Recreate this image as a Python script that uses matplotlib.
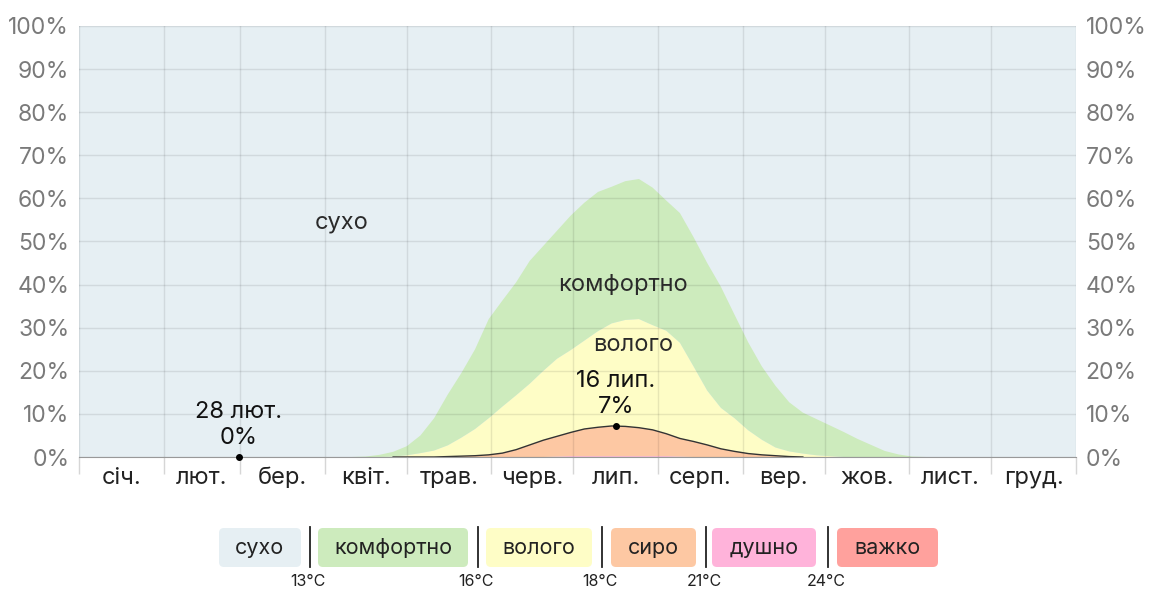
import matplotlib
matplotlib.use("Agg")
import matplotlib.pyplot as plt
from matplotlib.patches import FancyBboxPatch
import numpy as np

plt.rcParams['font.family'] = ['Inter', 'DejaVu Sans']

# day of year (0 = 1 Jan) and share of hours in each humidity band, %
days = [0, 100, 105, 110, 115, 120, 125, 130, 135, 140, 145, 150, 155, 160, 165, 170,
        175, 180, 185, 190, 195, 200, 205, 210, 215, 220, 225, 230, 235, 240, 245,
        250, 255, 260, 265, 270, 275, 280, 285, 290, 295, 300, 305, 310, 365]
comfortable = [0, 0, 0.1, 0.5, 1.1, 2.1, 4.1, 7.5, 11.8, 15.0, 18.5, 23.0, 24.6, 26.2, 28.5, 29.0,
               29.7, 31.2, 32.0, 32.3, 31.7, 32.2, 32.5, 31.9, 30.2, 30.1, 30.0, 29.6, 28.1, 24.0, 20.4,
               17.0, 14.3, 11.4, 9.5, 8.4, 7.1, 5.8, 4.2, 2.8, 1.4, 0.6, 0.1, 0, 0]
humid = [0, 0, 0, 0, 0.1, 0.4, 0.9, 1.5, 2.6, 4.3, 6.2, 8.5, 10.8, 12.6, 14.2, 16.1,
         18.0, 19.1, 20.5, 22.3, 23.8, 24.7, 25.2, 24.3, 23.9, 22.2, 17.4, 12.6, 9.5, 7.7, 5.4,
         3.5, 1.9, 1.2, 0.8, 0.4, 0.2, 0, 0, 0, 0, 0, 0, 0, 0]
muggy = [0, 0, 0, 0, 0, 0, 0, 0, 0.1, 0.2, 0.3, 0.5, 0.9, 1.7, 2.8, 3.9,
         4.7, 5.5, 6.3, 6.7, 7.0, 6.9, 6.6, 6.1, 5.2, 4.2, 3.6, 2.8, 1.9, 1.3, 0.8,
         0.5, 0.3, 0.1, 0, 0, 0, 0, 0, 0, 0, 0, 0, 0, 0]
oppressive = [0, 0, 0, 0, 0, 0, 0, 0, 0, 0, 0, 0, 0, 0, 0, 0,
              0.1, 0.2, 0.2, 0.2, 0.2, 0.2, 0.2, 0.2, 0.2, 0.1, 0, 0, 0, 0, 0,
              0, 0, 0, 0, 0, 0, 0, 0, 0, 0, 0, 0, 0, 0]

month_starts = [0, 31, 59, 90, 120, 151, 181, 212, 243, 273, 304, 334, 365]
month_labels = ['січ.', 'лют.', 'бер.', 'квіт.', 'трав.', 'черв.', 'лип.', 'серп.',
                'вер.', 'жов.', 'лист.', 'груд.']

band_names = ['сухо', 'комфортно', 'волого', 'сиро', 'душно', 'важко']
band_colors = ['#e6eff3', '#cdebbd', '#fefdc6', '#fdc8a3', '#ffb3da', '#ffa19d']
band_limits = ['13°C', '16°C', '18°C', '21°C', '24°C']

# annotated points: (day, value, label)
min_point = (58.5, 0, '28 лют.')
max_point = (196.5, 7.2, '16 лип.')

W, H = 1149, 589
fig = plt.figure(figsize=(W / 100, H / 100), dpi=100)
ax = fig.add_axes([79 / W, 1 - 457 / H, (1076 - 79) / W, (457 - 26) / H])
ax.set_facecolor(band_colors[0])

x = np.array(days)
ax.stackplot(x, oppressive, muggy, humid, comfortable,
             colors=[band_colors[4], band_colors[3], band_colors[2], band_colors[1]],
             linewidth=0, zorder=1)
top_muggy = np.array(oppressive) + np.array(muggy)
ax.plot(x[4:-10], top_muggy[4:-10], color='#333333', lw=1, zorder=3)

ax.set_xlim(0, 365)
ax.set_ylim(0, 100)
ax.set_yticks(range(0, 101, 10))
ax.set_yticklabels([f'{v}%' for v in range(0, 101, 10)])
ax.tick_params(axis='y', length=0, labelsize=16.5, colors='#7a7a7a', pad=7,
               labelright=True, right=False)
ax.set_xticks(month_starts)
ax.set_xticklabels([])
ax.tick_params(axis='x', which='major', length=12, width=1, color='#d6d6d6')
mids = [(a + b) / 2 for a, b in zip(month_starts[:-1], month_starts[1:])]
ax.set_xticks(mids, minor=True)
ax.set_xticklabels(month_labels, minor=True)
ax.tick_params(axis='x', which='minor', length=0, labelsize=17, colors='#222222', pad=7)

ax.set_axisbelow(False)
ax.grid(True, which='major', color='#000000', alpha=0.09, lw=1, zorder=2)
for s in ['top', 'left', 'right']:
    ax.spines[s].set_visible(False)
ax.spines['bottom'].set_color('#999999')
ax.spines['bottom'].set_zorder(4)

txt = dict(ha='center', va='center', fontsize=17, color='#2a2a2a', zorder=5)
ax.text(96, 54.4, band_names[0], **txt)
ax.text(199, 40.0, band_names[1], **txt)
ax.text(203, 25.9, band_names[2], **txt)

for d, v, lab in [min_point, max_point]:
    ax.plot(d, v, 'o', color='black', ms=4, zorder=6, clip_on=False)
    ax.annotate(f'{lab}\n{v:.0f}%', (d, v), xytext=(0, 6), textcoords='offset points',
                ha='center', va='bottom', fontsize=17, color='#111111',
                linespacing=1.2, zorder=6)

# legend strip
lg = fig.add_axes([0, 0, 1, 1], zorder=-1)
lg.set_xlim(0, W)
lg.set_ylim(H, 0)
lg.axis('off')
boxes = [(219, 301), (318, 468), (486, 592), (611, 696), (712, 816), (837, 938)]
for (x0, x1), name, c in zip(boxes, band_names, band_colors):
    lg.add_patch(FancyBboxPatch((x0, 528), x1 - x0, 39, boxstyle='round,pad=0,rounding_size=5',
                                fc=c, ec='none'))
    lg.text((x0 + x1) / 2, 548, name, ha='center', va='center', fontsize=15.5, color='#222222')
seps = [310, 478, 602, 706, 828]
for sx, lim in zip(seps, band_limits):
    lg.plot([sx, sx], [527, 567], color='#222222', lw=1.3)
    lg.text(sx - 2, 582, lim, ha='center', va='center', fontsize=11.5, color='#222222')

fig.savefig('out.png', dpi=100)
